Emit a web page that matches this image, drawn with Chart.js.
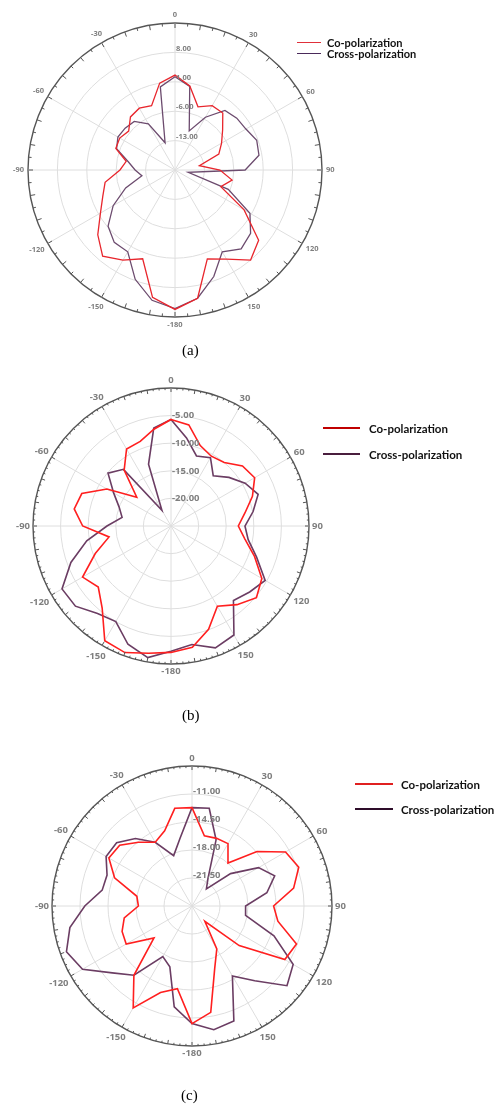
<!DOCTYPE html>
<html>
<head>
<meta charset="utf-8">
<script src="https://cdn.jsdelivr.net/npm/chart.js@4.4.1/dist/chart.umd.min.js"></script>
<style>
  body { margin: 0; width: 496px; height: 1118px; position: relative; background: #fff; overflow: hidden; }
  .plot { position: absolute; }
  .legend { position: absolute; font-family: Lato, 'Open Sans', sans-serif; font-weight: 700; color: #111; }
  .legend .swatch { position: absolute; left: 0; }
  .legend .name { position: absolute; transform: translateY(-50%); white-space: nowrap; }
  .caption { position: absolute; font-family: 'Liberation Serif', 'Times New Roman', serif; font-size: 15px; color: #000; }
</style>
</head>
<body>
<canvas id="plotA" class="plot" width="340" height="340" style="left:5px;top:0px"></canvas>
<canvas id="plotB" class="plot" width="340" height="340" style="left:1px;top:356px"></canvas>
<canvas id="plotC" class="plot" width="340" height="340" style="left:22px;top:736px"></canvas>
<div class="caption" style="left:182px;top:342px">(a)</div>
<div class="caption" style="left:182px;top:707px">(b)</div>
<div class="caption" style="left:181px;top:1087px">(c)</div>

<script>
// angles of the measured points, degrees clockwise from the top
const ANGLES = [0, 10, 20, 30, 40, 50, 60, 70, 80, 90, 100, 110, 120, 130, 140, 150, 160, 170,
  180, 190, 200, 210, 220, 230, 240, 250, 260, 270, 280, 290, 300, 310, 320, 330, 340, 350];
const SERIES = ['Co-polarization', 'Cross-polarization'];

// (a)
const R_TICKS_A = [-20, -13, -6, 1, 8, 15];
const CO_A = [2.6, 0.3, -4.0, -2.3, -2.3, -5.2, -7.2, -8.9, -14.1, -9.3, -6.2, -8.4, -1.0, 6.0, 8.0, 4.5, 2.5, 11.0,
  13.2, 10.8, 2.5, 4.8, 6.8, 4.0, 0.5, -1.7, -3.1, -6.9, -8.2, -5.0, -4.8, -5.6, -3.5, -3.0, -3.7, 1.0];
const CROSS_A = [2.2, 0.2, -10.1, -5.5, -1.5, -0.8, -0.5, 0.7, 0.3, -3.3, -16.8, -6.5, 0.6, 3.5, 4.5, 2.5, 7.0, 11.0,
  13.0, 11.5, 7.7, 2.5, 2.5, 0.8, -3.0, -7.5, -12.0, -10.5, -8.7, -5.2, -4.3, -4.5, -4.9, -7.3, -13.1, 0.1];

// (b)
const R_TICKS_B = [-25, -20, -15, -10, -5, 0];
const CO_B = [-5.7, -6.4, -9.5, -10.4, -10.0, -8.1, -7.5, -9.3, -11.4, -12.8, -11.4, -8.9, -6.0, -4.8, -6.4, -8.2, -5.1, -2.7,
  -2.1, -1.6, -0.6, -1.0, -5.6, -7.8, -6.5, -10.4, -13.6, -9.0, -7.2, -7.8, -11.6, -16.9, -11.8, -8.9, -8.7, -7.2];
const CROSS_B = [-5.7, -8.8, -11.5, -10.7, -13.1, -11.3, -9.5, -8.2, -9.9, -11.6, -10.8, -8.5, -5.3, -6.4, -7.4, -2.2, -1.5, -3.2,
  -2.3, -0.8, -2.2, -5.0, -4.3, -2.4, -2.2, -5.7, -9.5, -13.4, -16.0, -15.0, -13.0, -10.1, -11.6, -21.7, -13.1, -7.0];

// (c)
const R_TICKS_C = [-25, -21.5, -18, -14.5, -11, -7.5];
const CO_C = [-12.7, -16.1, -16.0, -16.0, -18.0, -14.4, -11.5, -10.8, -12.1, -14.8, -14.1, -11.1, -11.6, -17.3, -22.5, -18.8, -16.7, -11.5,
  -10.3, -14.5, -13.5, -10.3, -13.7, -18.8, -15.5, -15.7, -16.4, -18.3, -18.0, -14.7, -13.0, -13.2, -14.6, -15.8, -15.0, -12.6];
const CROSS_C = [-12.7, -12.6, -16.2, -21.0, -22.2, -18.7, -15.4, -14.0, -15.5, -18.3, -18.2, -14.1, -10.4, -9.5, -12.8, -14.9, -9.7, -9.3,
  -10.3, -12.2, -16.9, -17.7, -13.7, -12.0, -9.2, -8.3, -9.5, -11.6, -13.6, -13.7, -12.6, -12.7, -14.0, -15.8, -18.3, -16.4];

const angleText = a => String(a <= 150 ? a : a - 360);

// outer ring ticks, angle labels and radial value labels
const polarDecor = {
  id: 'polarDecor',
  afterDraw(chart, args, o) {
    const r = chart.scales.r;
    const ctx = chart.ctx;
    const cx = r.xCenter, cy = r.yCenter, R = r.drawingArea;
    ctx.save();
    ctx.strokeStyle = o.ringColor;
    ctx.lineWidth = 1;
    for (let a = 0; a < 360; a += o.minorStep) {
      const len = a % 10 === 0 ? o.majorLen : o.minorLen;
      const t = a * Math.PI / 180, s = Math.sin(t), c = -Math.cos(t);
      ctx.beginPath();
      ctx.moveTo(cx + R * s, cy + R * c);
      ctx.lineTo(cx + (R - len) * s, cy + (R - len) * c);
      ctx.stroke();
    }
    ctx.fillStyle = o.textColor;
    ctx.font = o.angleFont;
    ctx.textAlign = 'center';
    ctx.textBaseline = 'middle';
    ANGLES.forEach(a => {
      if (a % 30 !== 0) return;
      const txt = angleText(a);
      const w = ctx.measureText(txt).width;
      const t = a * Math.PI / 180, s = Math.sin(t), c = -Math.cos(t);
      const d = R + o.gap + Math.abs(s) * w / 2 + Math.abs(c) * o.angleSize / 2;
      ctx.fillText(txt, cx + d * s, cy + d * c);
    });
    ctx.font = o.valueFont;
    ctx.textAlign = 'left';
    o.ticks.slice(1, -1).forEach(v => {
      const y = cy - r.getDistanceFromCenterForValue(v) - o.valueLift;
      ctx.fillText(v.toFixed(2), cx + 1, y);
    });
    ctx.restore();
  }
};

function makePolar(id, ticks, co, cross, style) {
  const last = ticks.length - 1;
  new Chart(document.getElementById(id), {
    type: 'radar',
    data: {
      labels: ANGLES.map(angleText),
      datasets: [
        { label: SERIES[0], data: co, borderColor: style.coColor, borderWidth: style.lineWidth },
        { label: SERIES[1], data: cross, borderColor: style.crossColor, borderWidth: style.lineWidth }
      ]
    },
    options: {
      responsive: false,
      animation: false,
      layout: { padding: style.pad },
      elements: { point: { radius: 0 }, line: { tension: 0, fill: false } },
      scales: {
        r: {
          min: ticks[0],
          max: ticks[last],
          ticks: { stepSize: ticks[1] - ticks[0], display: false },
          pointLabels: { display: false },
          grid: {
            circular: true,
            color: c => c.index === last ? '#555' : '#dedede',
            lineWidth: c => c.index === last ? 1.4 : 1
          },
          angleLines: { color: c => c.index % 3 === 0 ? '#dedede' : 'transparent', lineWidth: 1 }
        }
      },
      plugins: {
        legend: { display: false },
        tooltip: { enabled: false },
        polarDecor: {
          ticks: ticks,
          ringColor: '#555',
          minorStep: style.minorStep,
          minorLen: style.minorLen,
          majorLen: style.majorLen,
          textColor: '#7f7f7f',
          angleFont: `bold ${style.angleSize}px "Open Sans", sans-serif`,
          angleSize: style.angleSize,
          valueFont: `bold ${style.valueSize}px "Open Sans", sans-serif`,
          valueLift: style.valueLift,
          gap: style.gap
        }
      }
    },
    plugins: [polarDecor]
  });
}

function makeLegend(left, top, rowGap, lineLen, lineWidth, colors, fontSize, textLeft) {
  const box = document.createElement('div');
  box.className = 'legend';
  box.style.left = left + 'px';
  box.style.top = top + 'px';
  box.style.fontSize = fontSize + 'px';
  SERIES.forEach((name, i) => {
    const y = i * rowGap;
    const sw = document.createElement('div');
    sw.className = 'swatch';
    sw.style.top = (y - lineWidth / 2) + 'px';
    sw.style.width = lineLen + 'px';
    sw.style.height = lineWidth + 'px';
    sw.style.background = colors[i];
    const tx = document.createElement('div');
    tx.className = 'name';
    tx.style.left = textLeft + 'px';
    tx.style.top = y + 'px';
    tx.textContent = name;
    box.appendChild(sw);
    box.appendChild(tx);
  });
  document.body.appendChild(box);
}

makePolar('plotA', R_TICKS_A, CO_A, CROSS_A, {
  pad: 23, coColor: '#e8262d', crossColor: '#6c4b6e', lineWidth: 1.3,
  minorStep: 5, minorLen: 3, majorLen: 5, angleSize: 7.5, valueSize: 7.5, valueLift: 4, gap: 4
});
makePolar('plotB', R_TICKS_B, CO_B, CROSS_B, {
  pad: 32, coColor: '#ff1f1f', crossColor: '#6b3d63', lineWidth: 1.6,
  minorStep: 2.5, minorLen: 2, majorLen: 4, angleSize: 9.5, valueSize: 9.5, valueLift: 0, gap: 3
});
makePolar('plotC', R_TICKS_C, CO_C, CROSS_C, {
  pad: 30, coColor: '#ff1f1f', crossColor: '#6b3d63', lineWidth: 1.6,
  minorStep: 2.5, minorLen: 2, majorLen: 4, angleSize: 9.5, valueSize: 9.5, valueLift: 3, gap: 3
});

makeLegend(297, 42, 11, 24, 1, ['#e0303a', '#4a2a5a'], 11, 30);
makeLegend(323, 428, 26, 37, 2.2, ['#c00000', '#4a1e3e'], 11.5, 46);
makeLegend(355, 784, 25, 38, 2.2, ['#e02020', '#2e0d2a'], 11.5, 46);
</script>
</body>
</html>
